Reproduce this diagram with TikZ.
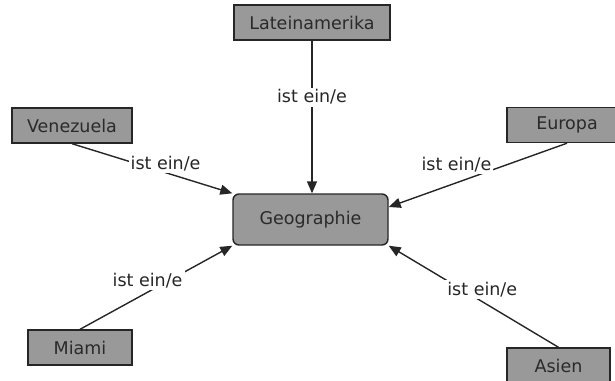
\documentclass[tikz,border=0pt]{standalone}
\usepackage{fontspec}
\setmainfont{DejaVu Sans}
\usetikzlibrary{arrows.meta}
\definecolor{boxgray}{HTML}{999999}
\definecolor{edgegray}{HTML}{262626}
\definecolor{txtgray}{HTML}{2A2A2A}
\begin{document}
\begin{tikzpicture}[x=1pt,y={(0pt,-1pt)},
  concept/.style={draw=edgegray,line width=1.4pt,fill=boxgray,text=txtgray,
    minimum height=35pt,inner sep=0pt,font=\fontsize{17.5}{20}\selectfont},
  mainconcept/.style={concept,rounded corners=6pt,minimum height=51pt},
  link/.style={draw=edgegray,line width=1.4pt,-{Triangle[length=12pt,width=10pt]}},
  lbl/.style={fill=white,inner sep=2pt,text=black!85,font=\fontsize{17.5}{20}\selectfont}]
  \clip (0,0) rectangle (615,380);
  \useasboundingbox (0,0) rectangle (615,380);

  % concepts
  \node[mainconcept,minimum width=155pt] (geo) at (310.5,219.5) {Geographie};
  \node[concept,minimum width=156pt] (lat) at (312,22.5) {Lateinamerika};
  \node[concept,minimum width=120pt] (ven) at (72,125.5) {Venezuela};
  \node[concept,minimum width=120pt] (eur) at (567,125) {Europa};
  \node[concept,minimum width=104pt] (mia) at (80,347.5) {Miami};
  \node[concept,minimum width=103pt] (asi) at (558.5,365.5) {Asien};

  % links
  \draw[link] (lat.south) -- (lat.south |- geo.north)
    node[lbl,pos=0.37] (l1) {ist ein/e};
  \draw[link] (ven.south) -- (geo.north west)
    node[lbl,pos=0.584,yshift=9pt] (l2) {ist ein/e};
  \draw[link] (eur.south) -- ([yshift=12.5pt]geo.east)
    node[lbl,pos=0.62,yshift=18pt] (l3) {ist ein/e};
  \draw[link] (mia.north) -- (geo.south west)
    node[lbl,pos=0.444,yshift=12pt] (l4) {ist ein/e};
  \draw[link] (asi.north) -- (geo.south east)
    node[lbl,pos=0.449,yshift=12pt] (l5) {ist ein/e};
\end{tikzpicture}
\end{document}
